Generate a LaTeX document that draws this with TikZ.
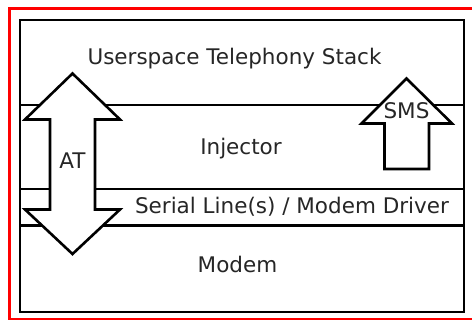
\documentclass[tikz,border=0pt]{standalone}
\usepackage{fontspec}
\setmainfont{DejaVu Sans}
\begin{document}
\begin{tikzpicture}[x=1pt,y=-1pt,
  layer/.style={line width=2.5pt},
  label/.style={font=\fontsize{21.5}{25}\selectfont, text=black!85, inner sep=0pt, anchor=base},
  bigarrow/.style={draw=black, fill=white, line width=2.6pt, line join=miter}]
\useasboundingbox (0,0) rectangle (472,320);
\fill[white] (0,0) rectangle (472,320);
% red frame
\draw[red, line width=3pt] (9.5,8.5) rectangle (530,319.5);
% stack outline and layer separators
\draw[layer] (20,20) rectangle (464,312);
\coordinate (l1a) at (20,105);  \coordinate (l1b) at (464,105);
\coordinate (l2a) at (20,189);  \coordinate (l2b) at (464,189);
\coordinate (l3a) at (20,225.5);\coordinate (l3b) at (464,225.5);
\draw[layer] (l1a) -- (l1b);
\draw[layer] (l2a) -- (l2b);
\draw[layer] (l3a) -- (l3b);
% layer names
\node[label] (user) at (234.5,65) {Userspace Telephony Stack};
\node[label] (inj) at (241,155) {Injector};
\node[label] (ser) at (292,214) {Serial Line(s) / Modem Driver};
\node[label] (modem) at (237.5,273) {Modem};
% AT command channel: double-headed arrow
\draw[bigarrow] (72.5,73.5) -- (120,119.5) -- (95,119.5) -- (95,209.5) -- (120,209.5)
  -- (72.5,254) -- (25,209.5) -- (50,209.5) -- (50,119.5) -- (25,119.5) -- cycle;
\node[label] (at) at (72.5,169) {AT};
% SMS channel: single upward arrow
\draw[bigarrow] (406.5,78.5) -- (452,123.5) -- (429,123.5) -- (429,169) -- (384.5,169)
  -- (384.5,123.5) -- (361.5,123.5) -- cycle;
\node[label] (sms) at (406.5,118.5) {SMS};
\end{tikzpicture}
\end{document}
